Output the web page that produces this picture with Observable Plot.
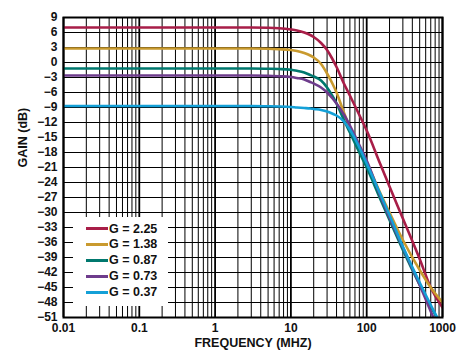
<!DOCTYPE html>
<html>
<head>
<meta charset="utf-8">
<script src="https://cdn.jsdelivr.net/npm/d3@7"></script>
<script src="https://cdn.jsdelivr.net/npm/@observablehq/plot@0.6"></script>
<style>
  html, body { margin: 0; padding: 0; background: #fff; }
  #wrap { position: relative; width: 467px; height: 353px; font-family: "Liberation Sans", Arial, sans-serif; }
  #legend { position: absolute; left: 73px; top: 217px; width: 95px; height: 89px; background: #fff; }
  .item { position: absolute; left: 13px; height: 16px; display: flex; align-items: center; font-weight: bold; font-size: 12.5px; color: #111; }
  .swatch { width: 22px; height: 3px; margin-right: 1px; }
</style>
</head>
<body>
<div id="wrap"></div>
<script>
// Frequencies (MHz) at which gains are read
const freq = [0.01, 1, 3, 5, 7, 10, 12, 15, 18, 20, 25, 30, 35, 40, 50, 60, 80, 100, 150, 200, 300, 500, 700, 1000];
// Gain (dB) per series
const gainG225 = [7.0, 7.0, 7.0, 6.95, 6.85, 6.6, 6.4, 6.0, 5.5, 5.1, 3.9, 2.5, 0.8, -0.9, -4.2, -6.6, -10.5, -13.6, -20.2, -24.8, -31.2, -39.3, -45.0, -49.0];
const gainG138 = [2.8, 2.8, 2.8, 2.75, 2.65, 2.5, 2.3, 1.9, 1.4, 1.0, -0.3, -2.2, -4.1, -6.0, -10.0, -13.0, -17.2, -20.0, -26.0, -30.0, -35.5, -41.5, -45.0, -48.0];
const gainG087 = [-1.2, -1.2, -1.2, -1.25, -1.3, -1.45, -1.65, -2.0, -2.5, -2.8, -3.6, -5.0, -6.6, -8.2, -11.5, -14.0, -18.0, -21.0, -27.2, -31.5, -37.5, -44.5, -48.8, -53.0];
const gainG073 = [-2.6, -2.6, -2.6, -2.65, -2.75, -2.9, -3.1, -3.4, -3.9, -4.2, -5.0, -6.0, -7.1, -8.2, -10.4, -12.6, -16.5, -19.6, -26.5, -31.0, -37.0, -44.5, -49.8, -55.0];
const gainG037 = [-8.7, -8.7, -8.7, -8.75, -8.8, -8.9, -9.0, -9.1, -9.2, -9.3, -9.5, -9.8, -10.2, -10.6, -11.8, -13.4, -17.0, -20.2, -26.2, -30.5, -36.8, -44.0, -48.5, -53.0];

const seriesNames = ["G = 2.25", "G = 1.38", "G = 0.87", "G = 0.73", "G = 0.37"];
const seriesGains = [gainG225, gainG138, gainG087, gainG073, gainG037];
const seriesColors = ["#A81E48", "#C99A2E", "#00786E", "#6E3C8C", "#14A0D7"];

const xTicks = [0.01, 0.1, 1, 10, 100, 1000];
const xTickLabels = ["0.01", "0.1", "1", "10", "100", "1000"];
const yTicks = [9, 6, 3, 0, -3, -6, -9, -12, -15, -18, -21, -24, -27, -30, -33, -36, -39, -42, -45, -48, -51];
const xMinorMultipliers = [2, 3, 4, 5, 6, 7, 8, 9];
const xDecades = [0.01, 0.1, 1, 10, 100];

const minorGrid = xDecades.flatMap(d => xMinorMultipliers.map(m => d * m));

const rows = seriesNames.flatMap((name, i) =>
  freq.map((f, j) => ({series: name, f, g: seriesGains[i][j]})));

const font = '"Liberation Sans", Arial, sans-serif';

const chart = Plot.plot({
  width: 467,
  height: 353,
  marginLeft: 63,
  marginRight: 25,
  marginTop: 17,
  marginBottom: 36,
  style: {fontFamily: font, fontWeight: "bold", fontSize: "12px", color: "#111", background: "#fff"},
  x: {type: "log", domain: [0.01, 1000], axis: null},
  y: {domain: [-51, 9], axis: null},
  color: {domain: seriesNames, range: seriesColors},
  marks: [
    Plot.ruleY(yTicks, {stroke: "#000", strokeWidth: 1}),
    Plot.ruleX(minorGrid, {stroke: "#000", strokeWidth: 1}),
    Plot.ruleX(xTicks, {stroke: "#000", strokeWidth: 1.8}),
    Plot.line(rows, {x: "f", y: "g", z: "series", stroke: "series", strokeWidth: 2.6, curve: "monotone-x", clip: true}),
    Plot.frame({stroke: "#000", strokeWidth: 2}),
    Plot.text(xTicks, {x: d => d, frameAnchor: "bottom", dy: 6, lineAnchor: "top", text: d => xTickLabels[xTicks.indexOf(d)], fontSize: 12, fontWeight: "bold"}),
    Plot.text(yTicks, {y: d => d, frameAnchor: "left", dx: -6, textAnchor: "end", text: d => d < 0 ? "\u2212" + Math.abs(d) : String(d), fontSize: 12, fontWeight: "bold"}),
    Plot.text(["FREQUENCY (MHZ)"], {frameAnchor: "bottom", dy: 29, lineAnchor: "bottom", fontSize: 12.5, fontWeight: "bold"}),
    Plot.text(["GAIN (dB)"], {frameAnchor: "left", dx: -41, rotate: -90, fontSize: 12.5, fontWeight: "bold"})
  ]
});

const wrap = document.getElementById("wrap");
wrap.appendChild(chart);

const legend = document.createElement("div");
legend.id = "legend";
const centers = [11.7, 27, 43, 59, 75];
seriesNames.forEach((name, i) => {
  const item = document.createElement("div");
  item.className = "item";
  item.style.top = (centers[i] - 8) + "px";
  const sw = document.createElement("span");
  sw.className = "swatch";
  sw.style.background = seriesColors[i];
  item.appendChild(sw);
  item.appendChild(document.createTextNode(name));
  legend.appendChild(item);
});
wrap.appendChild(legend);
</script>
</body>
</html>
